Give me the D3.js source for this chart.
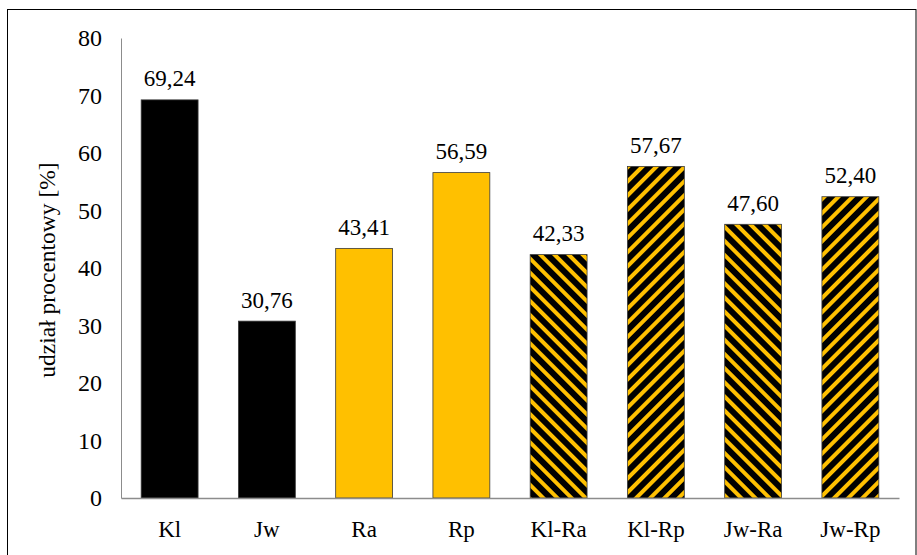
<!DOCTYPE html>
<html>
<head>
<meta charset="utf-8">
<script src="https://cdn.jsdelivr.net/npm/d3@7"></script>
<style>
  html, body { margin: 0; padding: 0; background: #fff; }
  svg { display: block; }
  text { font-family: "Liberation Serif", "Times New Roman", serif; fill: #000; }
</style>
</head>
<body>
<svg id="chart" width="917" height="555"></svg>
<script>
// Data
const categories = ["Kl", "Jw", "Ra", "Rp", "Kl-Ra", "Kl-Rp", "Jw-Ra", "Jw-Rp"];
const values = [69.24, 30.76, 43.41, 56.59, 42.33, 57.67, 47.60, 52.40];
const fillKinds = ["black", "black", "yellow", "yellow", "hatchDown", "hatchUp", "hatchDown", "hatchUp"];
const yTicks = [0, 10, 20, 30, 40, 50, 60, 70, 80];
const yTitle = "udział procentowy [%]";

const W = 917, H = 555;
const margin = { left: 121, right: 18, top: 38, bottom: 57 };

const svg = d3.select("#chart");
const defs = svg.append("defs");

const YELLOW = "#FFC000";

// Diagonal stripe patterns: "/" (up) and "\" (down)
function stripes(id, angle) {
  const p = defs.append("pattern")
    .attr("id", id)
    .attr("patternUnits", "userSpaceOnUse")
    .attr("width", 10).attr("height", 10)
    .attr("patternTransform", `rotate(${angle})`);
  p.append("rect").attr("width", 10).attr("height", 10).attr("fill", "#000");
  p.append("rect").attr("x", 0).attr("width", 4).attr("height", 10).attr("fill", YELLOW);
}
stripes("hatchUp", 45);
stripes("hatchDown", -45);

const fillFor = k => k === "black" ? "#000" : k === "yellow" ? YELLOW : `url(#${k})`;

// Outer frame
svg.append("rect")
  .attr("x", 7.5).attr("y", 9.5)
  .attr("width", W - 8.5).attr("height", H)
  .attr("fill", "none").attr("stroke", "#000").attr("stroke-width", 1);

const x = d3.scaleBand()
  .domain(categories)
  .range([margin.left, W - margin.right])
  .paddingInner(0.415)
  .paddingOuter(0.2075);

const y = d3.scaleLinear()
  .domain([0, 80])
  .range([H - margin.bottom, margin.top]);

// Y axis
const yAxis = svg.append("g")
  .attr("transform", `translate(${margin.left},0)`)
  .call(d3.axisLeft(y).tickValues(yTicks).tickSize(0).tickPadding(19).tickFormat(d3.format("d")));
yAxis.select(".domain").attr("stroke", "#8c8c8c").attr("stroke-width", 1);
yAxis.selectAll("text").attr("font-size", 24).attr("dy", "0.33em");

// Bars
svg.append("g").selectAll("rect")
  .data(values)
  .join("rect")
  .attr("x", (d, i) => x(categories[i]))
  .attr("y", d => y(d))
  .attr("width", x.bandwidth())
  .attr("height", d => y(0) - y(d))
  .attr("fill", (d, i) => fillFor(fillKinds[i]))
  .attr("stroke", "#3a3a3a")
  .attr("stroke-width", 0.8);

// X axis
const xAxis = svg.append("g")
  .attr("transform", `translate(0,${y(0)})`)
  .call(d3.axisBottom(x).tickSize(0).tickPadding(23));
xAxis.select(".domain").attr("stroke", "#8c8c8c").attr("stroke-width", 1.5);
xAxis.selectAll("text").attr("font-size", 23);

// Value labels
const fmt = v => d3.format(".2f")(v).replace(".", ",");
svg.append("g").selectAll("text")
  .data(values)
  .join("text")
  .attr("x", (d, i) => x(categories[i]) + x.bandwidth() / 2)
  .attr("y", d => y(d) - 13.5)
  .attr("text-anchor", "middle")
  .attr("font-size", 23)
  .text(d => fmt(d));

// Y axis title
svg.append("text")
  .attr("transform", `translate(55,${(y(0) + y(80)) / 2 + 2}) rotate(-90)`)
  .attr("text-anchor", "middle")
  .attr("font-size", 23.5)
  .text(yTitle);
</script>
</body>
</html>
